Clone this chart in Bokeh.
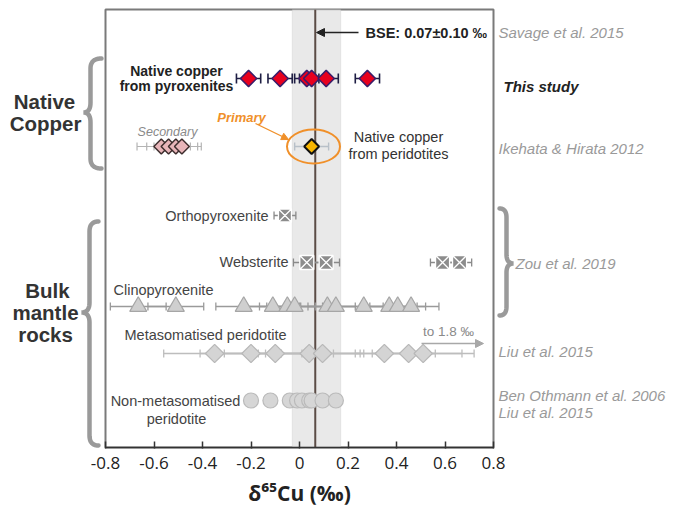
import numpy as np
from bokeh.plotting import figure
from bokeh.models import (Range1d, Arrow, NormalHead, Span, BoxAnnotation, FixedTicker)
from bokeh.core.properties import value
from bokeh.embed import file_html
from bokeh.resources import INLINE

# ---------------- data ----------------
x_ticks = [-0.8, -0.6, -0.4, -0.2, 0.0, 0.2, 0.4, 0.6, 0.8]
x_tick_labels = ["-0.8", "-0.6", "-0.4", "-0.2", "0", "0.2", "0.4", "0.6", "0.8"]

bse_value = 0.07
bse_err = 0.10

pyx_cu = [-0.21, -0.08, 0.03, 0.05, 0.11, 0.28]
pyx_err = [0.05, 0.05, 0.05, 0.05, 0.05, 0.05]

secondary_cu = [-0.57, -0.54, -0.51, -0.485]
secondary_err = [0.10, 0.09, 0.09, 0.08]

primary_cu = [0.05]
primary_err = [0.07]

opx = [-0.06]
opx_err = [0.045]

websterite = [0.03, 0.11, 0.59, 0.66]
websterite_err = [0.055, 0.055, 0.05, 0.05]

cpx = [-0.665, -0.51, -0.23, -0.11, -0.05, -0.02, 0.115, 0.15, 0.265, 0.37, 0.405, 0.46]
cpx_err = [0.115, 0.115, 0.115, 0.115, 0.115, 0.115, 0.115, 0.115, 0.115, 0.115, 0.115, 0.115]

meta = [-0.35, -0.20, -0.10, 0.04, 0.095, 0.35, 0.45, 0.51]
meta_err = [0.21, 0.21, 0.21, 0.21, 0.17, 0.21, 0.22, 0.21]

nonmeta = [-0.20, -0.12, -0.04, -0.01, 0.01, 0.04, 0.05, 0.095, 0.15]

# row positions (vertical layout, in pixel-like units from the top)
row_pyx, row_nat_per, row_opx, row_web, row_cpx, row_meta, row_nonmeta = 78, 146, 215, 262, 306, 353, 400

# ---------------- figure ----------------
p = figure(frame_width=388, frame_height=438, x_range=Range1d(-0.8, 0.8),
           y_range=Range1d(447, 9), output_backend="svg", toolbar_location=None,
           min_border_left=105, min_border_right=182, min_border_top=9, min_border_bottom=60,
           y_axis_location=None)
p.background_fill_color = "white"
p.border_fill_color = "white"
p.outline_line_color = "#7a7a7a"
p.outline_line_width = 2
p.xgrid.visible = False
p.ygrid.visible = False

ax = p.xaxis[0]
ax.ticker = FixedTicker(ticks=x_ticks)
ax.major_label_overrides = dict(zip(x_ticks, x_tick_labels))
ax.major_tick_in = 6
ax.major_tick_out = 1
ax.minor_tick_line_color = None
ax.axis_line_color = "#333333"
ax.axis_line_width = 1.5
ax.major_tick_line_color = "#333333"
ax.major_tick_line_width = 1.5
ax.major_label_text_font = "Open Sans"
ax.major_label_text_font_size = "17px"
ax.major_label_text_color = "#222222"
ax.major_label_standoff = 8
ax.axis_label = "δ⁶⁵Cu (‰)"
ax.axis_label_text_font = "Open Sans"
ax.axis_label_text_font_size = "21px"
ax.axis_label_text_font_style = "bold"
ax.axis_label_text_color = "#222222"
ax.axis_label_standoff = 7

PXU = 242.5


def px2x(px):
    return -0.8 + (px - 105) / PXU


FONT = "Liberation Sans"

# BSE band and line
p.add_layout(BoxAnnotation(left=bse_value - bse_err, right=bse_value + bse_err,
                           fill_color="#e4e4e4", fill_alpha=0.8,
                           line_color="#c4c4c4", line_width=1, level="underlay"))
p.add_layout(Span(location=bse_value - 0.005, dimension="height", line_color="#5b4c46",
                  line_width=2, level="underlay"))


def errbars(xs, errs, y, color, width, cap):
    left = [x - e for x, e in zip(xs, errs)]
    right = [x + e for x, e in zip(xs, errs)]
    n = len(xs)
    p.segment(x0=left, y0=[y] * n, x1=right, y1=[y] * n, line_color=color, line_width=width)
    p.scatter(x=left + right, y=[y] * (2 * n), marker="dash", angle=np.pi / 2, size=cap,
              line_color=color, line_width=width)


# error bars
errbars(pyx_cu, pyx_err, row_pyx, "#1e1e44", 1.6, 10)
errbars(secondary_cu, secondary_err, row_nat_per, "#b4b4b4", 1.2, 8)
errbars(primary_cu, primary_err, row_nat_per, "#b8c0c8", 1.4, 8)
errbars(opx, opx_err, row_opx, "#8a8a8a", 1.3, 8)
errbars(websterite, websterite_err, row_web, "#8a8a8a", 1.3, 8)
errbars(cpx, cpx_err, row_cpx, "#9a9a9a", 1.3, 8)
errbars(meta, meta_err, row_meta, "#bdbdbd", 1.3, 8)

# markers
p.scatter(x=pyx_cu, y=[row_pyx] * len(pyx_cu), marker="square", angle=np.pi / 4, size=11.5,
          fill_color="#e8001e", line_color="#3a1d6a", line_width=1.5)
p.scatter(x=secondary_cu, y=[row_nat_per] * len(secondary_cu), marker="square", angle=np.pi / 4,
          size=10.5, fill_color="#e8b5b9", line_color="#3e2e2e", line_width=1.5)
p.scatter(x=primary_cu, y=[row_nat_per] * len(primary_cu), marker="square", angle=np.pi / 4,
          size=10.5, fill_color="#f7b500", line_color="#111111", line_width=2)
p.scatter(x=opx, y=[row_opx] * len(opx), marker="square_x", size=13,
          fill_color="#8c8c8c", line_color="white", line_width=1.3)
p.scatter(x=websterite, y=[row_web] * len(websterite), marker="square_x", size=14,
          fill_color="#8c8c8c", line_color="white", line_width=1.3)
p.scatter(x=cpx, y=[row_cpx] * len(cpx), marker="triangle", size=17,
          fill_color="#cfcfcf", line_color="#a6a6a6", line_width=1.2)
p.scatter(x=meta, y=[row_meta] * len(meta), marker="square", angle=np.pi / 4, size=13,
          fill_color="#d4d4d4", line_color="#b8b8b8", line_width=1.2)
p.scatter(x=nonmeta, y=[row_nonmeta] * len(nonmeta), marker="circle", size=15,
          fill_color="#d6d6d6", line_color="#bababa", line_width=1.2)

# orange ellipse around primary
p.ellipse(x=px2x(313), y=row_nat_per, width=53, height=34, width_units="screen",
          height_units="screen", fill_color=None, line_color="#f0902a", line_width=2)

# arrows
p.add_layout(Arrow(end=NormalHead(size=8, fill_color="#222222", line_color="#222222"),
                   x_start=px2x(358), y_start=32, x_end=px2x(316), y_end=32,
                   line_color="#222222", line_width=1.3))
p.add_layout(Arrow(end=NormalHead(size=7, fill_color="#f0902a", line_color="#f0902a"),
                   x_start=px2x(255), y_start=123, x_end=px2x(288), y_end=139,
                   line_color="#f0902a", line_width=1.3))
p.add_layout(Arrow(end=NormalHead(size=8, fill_color="#a8a8a8", line_color="#a8a8a8"),
                   x_start=px2x(421), y_start=343, x_end=px2x(483), y_end=343,
                   line_color="#a8a8a8", line_width=1.3))


def lab(px, y, text, size, color, style="normal", align="left"):
    r = p.text(x=[px2x(px)], y=[y], text=[text], text_font=value(FONT), text_font_size=size,
               text_color=color, text_font_style=style, text_align=align,
               text_baseline="middle")
    r.level = "annotation"


# in-frame texts
lab(365, 32, "BSE: 0.07±0.10 ‰", "14.5px", "#222222", "bold")
lab(176, 70, "Native copper", "14px", "#222222", "bold", "center")
lab(176, 85, "from pyroxenites", "14px", "#222222", "bold", "center")
lab(167, 131, "Secondary", "12.5px", "#8a8a8a", "italic", "center")
lab(241, 117, "Primary", "13px", "#f0902a", "bold italic", "center")
lab(398, 136, "Native copper", "14.5px", "#333333", "normal", "center")
lab(398, 153, "from peridotites", "14.5px", "#333333", "normal", "center")
lab(268, 215, "Orthopyroxenite", "14.5px", "#444444", "normal", "right")
lab(288, 261, "Websterite", "14.5px", "#444444", "normal", "right")
lab(113, 289, "Clinopyroxenite", "14.5px", "#444444", "normal", "left")
lab(205, 334, "Metasomatised peridotite", "14.5px", "#444444", "normal", "center")
lab(175, 400, "Non-metasomatised", "14.5px", "#444444", "normal", "center")
lab(176, 418, "peridotite", "14.5px", "#444444", "normal", "center")
lab(448, 331, "to 1.8 ‰", "13.5px", "#8a8a8a", "normal", "center")

# outside texts (references and group names)
lab(498, 32, "Savage et al. 2015", "15px", "#9a9a9a", "italic")
lab(503, 86, "This study", "15px", "#222222", "bold italic")
lab(498, 148, "Ikehata & Hirata 2012", "15px", "#9a9a9a", "italic")
lab(515, 263, "Zou et al. 2019", "15px", "#9a9a9a", "italic")
lab(498, 351, "Liu et al. 2015", "15px", "#9a9a9a", "italic")
lab(498, 395, "Ben Othmann et al. 2006", "15px", "#9a9a9a", "italic")
lab(498, 412, "Liu et al. 2015", "15px", "#9a9a9a", "italic")
lab(44, 101, "Native", "20.5px", "#333333", "bold", "center")
lab(45, 123, "Copper", "20.5px", "#333333", "bold", "center")
lab(47, 290, "Bulk", "20.5px", "#333333", "bold", "center")
lab(45, 312, "mantle", "20.5px", "#333333", "bold", "center")
lab(45, 334, "rocks", "20.5px", "#333333", "bold", "center")


# curly braces (decoration)
def brace(xe, xm, xt, y0, yc, y1, d):
    def quad(a, c, b, n=14):
        out = []
        for t in np.linspace(0, 1, n):
            out.append(((1 - t) ** 2 * a[0] + 2 * (1 - t) * t * c[0] + t ** 2 * b[0],
                        (1 - t) ** 2 * a[1] + 2 * (1 - t) * t * c[1] + t ** 2 * b[1]))
        return out
    pts = []
    pts += quad((xe, y0), (xm, y0), (xm, y0 + d))
    pts += quad((xm, yc - d), (xm, yc), (xt, yc))
    pts += quad((xt, yc), (xm, yc), (xm, yc + d))
    pts += quad((xm, y1 - d), (xm, y1), (xe, y1))
    return [px2x(q[0]) for q in pts], [q[1] for q in pts]


bx, by = [], []
for args in [(101, 90, 83, 58, 112, 168, 10), (98, 89, 81, 221, 312, 445, 10),
             (499, 506, 513, 208, 263, 315, 9)]:
    xs, ys = brace(*args)
    bx.append(xs)
    by.append(ys)
br = p.multi_line(xs=bx, ys=by, line_color="#9a9a9a", line_width=4.5, line_cap="round")
br.level = "annotation"

open("out.html", "w").write(file_html(p, INLINE))
